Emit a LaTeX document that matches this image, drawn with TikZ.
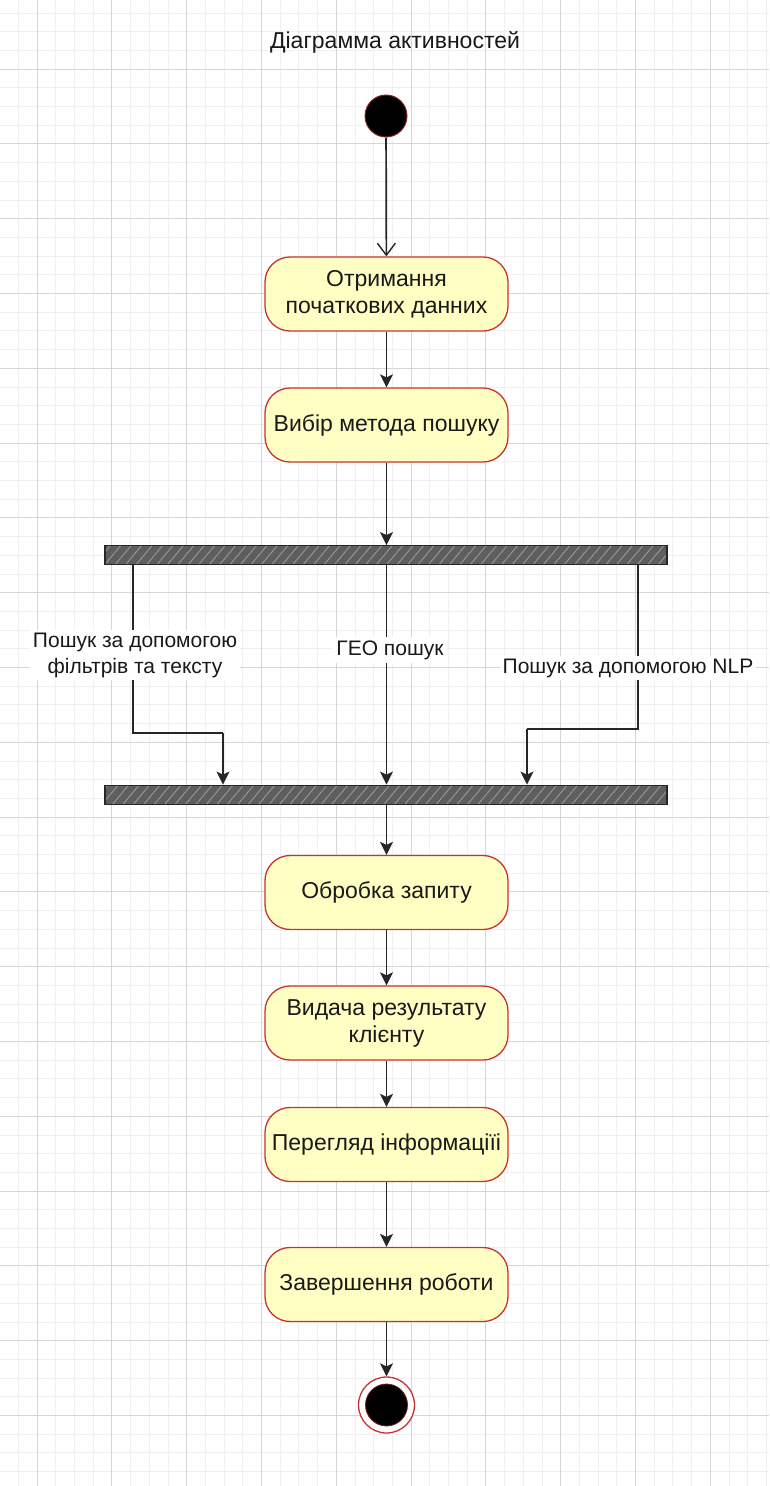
\documentclass[tikz,border=0pt]{standalone}
\usepackage{fontspec}
\setmainfont{Liberation Sans}
\usetikzlibrary{arrows.meta,patterns.meta,calc}
\definecolor{actfill}{HTML}{FFFFC4}
\definecolor{actline}{HTML}{C83232}
\definecolor{barfill}{HTML}{5E5E5E}
\definecolor{majgrid}{HTML}{D6D6D6}
\definecolor{mingrid}{HTML}{F0F0F0}
\begin{document}
\begin{tikzpicture}[x=1pt,y=-1pt,
  txt/.style={font=\fontsize{23}{27}\selectfont, text=black!90},
  act/.style={txt, draw=actline, line width=1.3pt, fill=actfill, rounded corners=25pt,
    minimum width=243pt, minimum height=74pt, align=center, inner sep=2pt},
  syncbar/.style={draw=black!85, line width=1.8pt, preaction={fill=barfill},
    pattern={Lines[angle=50,distance=8pt,line width=0.9pt]}, pattern color=gray!80, minimum width=562pt, minimum height=19pt, inner sep=0pt},
  flow/.style={draw=black!85, line width=1.7pt, -{Stealth[length=13pt,width=13pt,inset=3pt]}},
  openflow/.style={draw=black!85, line width=1.7pt, -{Straight Barb[length=12pt,width=18pt,line width=1.4pt]}},
  lbl/.style={font=\fontsize{21}{26}\selectfont, text=black!90, fill=white, inner sep=3pt, align=center},
  plain/.style={draw=black!85, line width=1.7pt}
]
\useasboundingbox (0,0) rectangle (769,1486);
\fill[white] (0,0) rectangle (769,1486);
% grid
\foreach \i in {-2,...,40} {
  \draw[mingrid, line width=0.8pt] ({37+18.7*\i},0) -- ({37+18.7*\i},1486);
}
\foreach \i in {-4,...,76} {
  \draw[mingrid, line width=0.8pt] (0,{69+18.7*\i}) -- (769,{69+18.7*\i});
}
\foreach \i in {0,...,9} {
  \draw[majgrid, line width=1pt] ({37+74.8*\i},0) -- ({37+74.8*\i},1486);
}
\foreach \i in {-1,...,19} {
  \draw[majgrid, line width=1pt] (0,{69+74.8*\i}) -- (769,{69+74.8*\i});
}

% title
\node[txt] (title) at (395,42) {Діаграмма активностей};

% start
\node[circle, fill=black, draw=actline!70!black, line width=1pt, minimum size=42pt, inner sep=0pt] (start) at (386,116) {};

% activities
\node[act] (a1) at (386.5,294) {Отримання\\початкових данних};
\node[act] (a2) at (386.5,425) {Вибір метода пошуку};
\node[syncbar] (bar1) at (386,555) {};
\node[syncbar] (bar2) at (386,795) {};
\node[act] (a3) at (386.5,892.5) {Обробка запиту};
\node[act] (a4) at (386.5,1023) {Видача результату\\клієнту};
\node[act] (a5) at (386.5,1144.5) {Перегляд інформаціїі};
\node[act] (a6) at (386.5,1284.5) {Завершення роботи};

% end
\node[circle, fill=white, draw=actline, line width=1.3pt, minimum size=56pt, inner sep=0pt] (end) at (386.5,1405) {};
\node[circle, fill=black, draw=actline!60!black, line width=0.8pt, minimum size=42pt, inner sep=0pt] (endin) at (end.center) {};

% branch corners
\coordinate (lc) at (133,733);
\coordinate (lt) at (223,733);
\coordinate (rc) at (638,729);
\coordinate (rt) at (527,729);
\coordinate (mid) at (386.5,0);

% connectors
\draw[openflow] (start) -- (a1);
\draw[flow] (a1) -- (a2);
\draw[flow] (a2.south) -- (bar1.north -| a2.south);
\draw[plain] (bar1.south -| lc) |- (lt);
\draw[flow] (lt) -- (bar2.north -| lt);
\draw[flow] (bar1.south -| mid) -- (bar2.north -| mid);
\draw[plain] (bar1.south -| rc) |- (rt);
\draw[flow] (rt) -- (bar2.north -| rt);
\draw[flow] (bar2.south -| a3.north) -- (a3.north);
\draw[flow] (a3) -- (a4);
\draw[flow] (a4) -- (a5);
\draw[flow] (a5) -- (a6);
\draw[flow] (a6) -- (end);

% labels
\node[lbl] (l1) at (135,655) {Пошук за допомогою\\фільтрів та тексту};
\node[lbl] (l2) at (390,650) {ГЕО пошук};
\node[lbl] (l3) at (628,668) {Пошук за допомогою NLP};
\end{tikzpicture}
\end{document}
